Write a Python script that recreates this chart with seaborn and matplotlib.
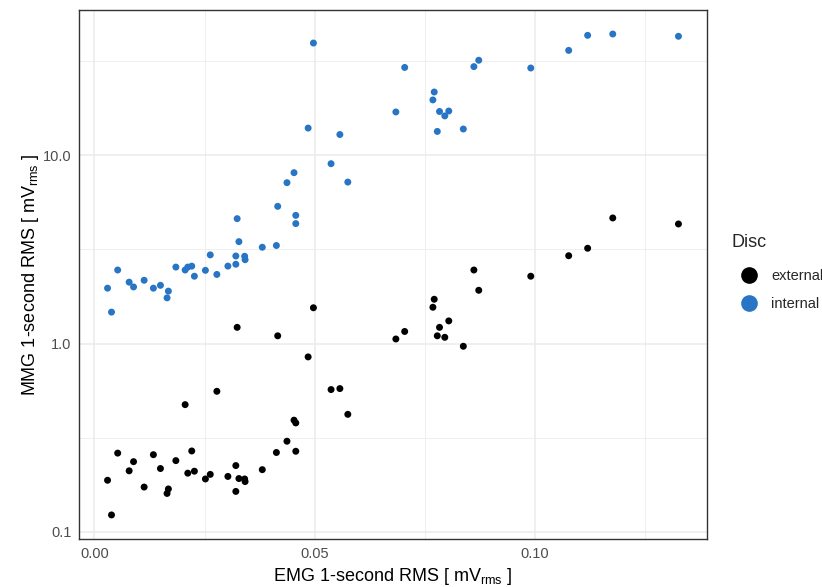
import numpy as np
import pandas as pd
import matplotlib
matplotlib.use("Agg")
import matplotlib.pyplot as plt
from matplotlib.ticker import FixedLocator, FixedFormatter, NullFormatter
from matplotlib.lines import Line2D
import seaborn as sns

emg = [0.0030, 0.0039, 0.0053, 0.0079, 0.0089, 0.0113, 0.0134, 0.0150, 0.0165, 0.0168,
       0.0185, 0.0206, 0.0212, 0.0221, 0.0227, 0.0252, 0.0263, 0.0278, 0.0303, 0.0321,
       0.0321, 0.0324, 0.0328, 0.0341, 0.0342, 0.0381, 0.0413, 0.0416, 0.0437, 0.0453,
       0.0457, 0.0457, 0.0485, 0.0497, 0.0537, 0.0557, 0.0575, 0.0684, 0.0704, 0.0768,
       0.0771, 0.0778, 0.0783, 0.0795, 0.0804, 0.0837, 0.0861, 0.0872, 0.0990, 0.1076,
       0.1119, 0.1176, 0.1325]
mmg_external = [0.188, 0.123, 0.262, 0.211, 0.236, 0.173, 0.257, 0.217, 0.160, 0.169,
                0.239, 0.474, 0.205, 0.269, 0.210, 0.191, 0.202, 0.558, 0.197, 0.225,
                0.164, 1.22, 0.192, 0.191, 0.185, 0.214, 0.264, 1.10, 0.303, 0.392,
                0.379, 0.268, 0.85, 1.55, 0.570, 0.577, 0.421, 1.058, 1.16, 1.56,
                1.72, 1.10, 1.22, 1.08, 1.32, 0.968, 2.46, 1.92, 2.28, 2.93,
                3.21, 4.65, 4.32]
mmg_internal = [1.97, 1.47, 2.46, 2.12, 2.00, 2.17, 1.97, 2.04, 1.75, 1.90,
                2.55, 2.46, 2.55, 2.58, 2.28, 2.45, 2.96, 2.33, 2.58, 2.92,
                2.64, 4.61, 3.48, 2.91, 2.79, 3.25, 3.32, 5.36, 7.16, 8.09,
                4.80, 4.34, 13.96, 39.5, 9.03, 12.9, 7.21, 17.0, 29.3, 19.7,
                21.7, 13.4, 17.1, 16.2, 17.2, 13.8, 29.6, 32.0, 29.1, 36.1,
                43.4, 44.1, 42.9]
disc_levels = ["external", "internal"]
x_ticks = [0.00, 0.05, 0.10]
x_tick_labels = ["0.00", "0.05", "0.10"]
y_ticks = [0.1, 1.0, 10.0]
y_tick_labels = ["0.1", "1.0", "10.0"]

df = pd.DataFrame({
    "emg": emg + emg,
    "mmg": mmg_external + mmg_internal,
    "Disc": ["external"] * len(emg) + ["internal"] * len(emg),
})

sns.set_style("white")
plt.rcParams["font.family"] = ["Liberation Sans", "DejaVu Sans"]
plt.rcParams["mathtext.fontset"] = "custom"
plt.rcParams["mathtext.rm"] = "Liberation Sans"
plt.rcParams["mathtext.it"] = "Liberation Sans:italic"

palette = {"external": "#000000", "internal": "#2874C5"}

fig = plt.figure(figsize=(8.22, 5.87), dpi=100)
ax = fig.add_axes([0.0961, 0.0818, 0.7640, 0.9012])

sns.scatterplot(data=df, x="emg", y="mmg", hue="Disc", hue_order=disc_levels,
                palette=palette, s=25, linewidth=0, ax=ax, legend=False, zorder=3)

ax.set_yscale("log")
xmin, xmax = min(emg), max(emg)
xr = xmax - xmin
ax.set_xlim(xmin - 0.05 * xr, xmax + 0.05 * xr)
allv = np.log10(mmg_external + mmg_internal)
lr = allv.max() - allv.min()
ax.set_ylim(10 ** (allv.min() - 0.05 * lr), 10 ** (allv.max() + 0.05 * lr))

ax.xaxis.set_major_locator(FixedLocator(x_ticks))
ax.xaxis.set_major_formatter(FixedFormatter(x_tick_labels))
ax.xaxis.set_minor_locator(FixedLocator([0.025, 0.075, 0.125]))
ax.yaxis.set_major_locator(FixedLocator(y_ticks))
ax.yaxis.set_major_formatter(FixedFormatter(y_tick_labels))
ax.yaxis.set_minor_locator(FixedLocator([10 ** -0.5, 10 ** 0.5, 10 ** 1.5]))
ax.yaxis.set_minor_formatter(NullFormatter())

ax.grid(True, which="major", color="#EBEBEB", linewidth=1.1, zorder=0)
ax.grid(True, which="minor", color="#EBEBEB", linewidth=0.55, zorder=0)
ax.set_axisbelow(True)
for sp in ax.spines.values():
    sp.set_color("#333333")
    sp.set_linewidth(1.0)
ax.tick_params(axis="both", which="major", length=3.5, width=0.8, color="#333333",
               labelsize=10.5, labelcolor="#4D4D4D", pad=2)
ax.tick_params(axis="both", which="minor", length=0)

ax.set_xlabel(r"EMG 1-second RMS [ mV$_{\mathrm{rms}}$ ]", fontsize=13, color="black", labelpad=4)
ax.set_ylabel(r"MMG 1-second RMS [ mV$_{\mathrm{rms}}$ ]", fontsize=13, color="black", labelpad=1)

handles = [Line2D([0], [0], marker="o", linestyle="", markersize=12,
                  markerfacecolor=palette[k], markeredgewidth=0) for k in disc_levels]
leg = fig.legend(handles, disc_levels, title="Disc", loc="upper left",
                 bbox_to_anchor=(0.883, 0.612), frameon=False, fontsize=10.5,
                 title_fontsize=13, handletextpad=0.3, labelspacing=1.0,
                 borderaxespad=0, handlelength=2.4)
leg._legend_box.align = "left"
leg._legend_box.sep = 13

fig.savefig("out.png", dpi=100)
